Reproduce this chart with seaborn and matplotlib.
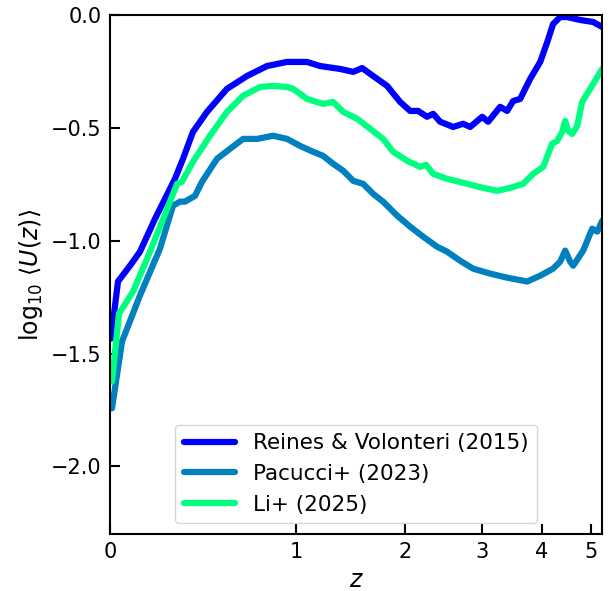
import numpy as np
import pandas as pd
import matplotlib
matplotlib.use("Agg")
import matplotlib.pyplot as plt
import seaborn as sns

# Reines & Volonteri (2015)
z_rv = [0.0037, 0.0303, 0.0773, 0.1182, 0.1826, 0.2738, 0.3126, 0.3622, 0.4355, 0.5463,
        0.6665, 0.7951, 0.9336, 1.0836, 1.1866, 1.3565, 1.4743, 1.5579, 1.6635, 1.8066,
        1.9459, 2.0584, 2.1506, 2.2571, 2.3327, 2.4199, 2.5900, 2.7256, 2.8251, 2.9997,
        3.0899, 3.2762, 3.3895, 3.4887, 3.6075, 3.7822, 3.9646, 4.0963, 4.2088, 4.3478,
        4.4891, 4.7617, 5.0475, 5.2542]
u_rv = [-1.434, -1.181, -1.111, -1.049, -0.903, -0.726, -0.637, -0.518, -0.429, -0.327,
        -0.270, -0.226, -0.208, -0.208, -0.226, -0.239, -0.252, -0.235, -0.270, -0.314,
        -0.385, -0.425, -0.425, -0.451, -0.438, -0.473, -0.496, -0.482, -0.496, -0.451,
        -0.473, -0.407, -0.425, -0.381, -0.372, -0.283, -0.208, -0.120, -0.040, -0.009,
        -0.009, -0.022, -0.031, -0.053]

# Pacucci+ (2023)
z_pa = [0.0075, 0.0457, 0.1182, 0.2048, 0.2643, 0.2981, 0.3224, 0.3727, 0.4090, 0.4899,
        0.5635, 0.6414, 0.7298, 0.8357, 0.9336, 1.0301, 1.1305, 1.2113, 1.2953, 1.3834,
        1.4743, 1.5672, 1.6635, 1.7652, 1.9140, 2.0584, 2.2095, 2.3823, 2.5106, 2.6852,
        2.8665, 3.1206, 3.3895, 3.7293, 3.9646, 4.2088, 4.3478, 4.4485, 4.5510, 4.6134,
        4.8265, 5.0249, 5.1398, 5.2542]
u_pa = [-1.743, -1.447, -1.243, -1.035, -0.845, -0.827, -0.827, -0.801, -0.739, -0.637,
        -0.593, -0.549, -0.549, -0.535, -0.549, -0.580, -0.606, -0.624, -0.659, -0.690,
        -0.735, -0.748, -0.792, -0.827, -0.889, -0.938, -0.982, -1.027, -1.049, -1.089,
        -1.124, -1.146, -1.164, -1.181, -1.155, -1.124, -1.093, -1.044, -1.093, -1.111,
        -1.044, -0.947, -0.960, -0.912]

# Li+ (2025)
z_li = [0.0075, 0.0341, 0.0895, 0.1607, 0.2840, 0.3075, 0.3622, 0.4514, 0.5463, 0.6414,
        0.7488, 0.8357, 0.9336, 0.9778, 1.0836, 1.2113, 1.2953, 1.3834, 1.5113, 1.6343,
        1.7652, 1.8708, 2.0249, 2.1742, 2.2450, 2.3327, 2.5106, 2.7843, 3.0110, 3.2286,
        3.4390, 3.6593, 3.8359, 4.0204, 4.1894, 4.2887, 4.3884, 4.4485, 4.5098, 4.5921,
        4.6980, 4.8050, 4.9803, 5.2542]
u_li = [-1.624, -1.323, -1.226, -1.049, -0.748, -0.739, -0.650, -0.535, -0.429, -0.358,
        -0.319, -0.314, -0.319, -0.327, -0.372, -0.394, -0.385, -0.429, -0.460, -0.504,
        -0.549, -0.606, -0.646, -0.673, -0.664, -0.704, -0.726, -0.748, -0.766, -0.779,
        -0.766, -0.748, -0.704, -0.673, -0.571, -0.558, -0.518, -0.469, -0.513, -0.527,
        -0.491, -0.385, -0.327, -0.239]

labels = ["Reines & Volonteri (2015)", "Pacucci+ (2023)", "Li+ (2025)"]
x_ticks = [0, 1, 2, 3, 4, 5]
y_ticks = [0.0, -0.5, -1.0, -1.5, -2.0]

df = pd.concat([
    pd.DataFrame({"z": z_rv, "u": u_rv, "model": labels[0]}),
    pd.DataFrame({"z": z_pa, "u": u_pa, "model": labels[1]}),
    pd.DataFrame({"z": z_li, "u": u_li, "model": labels[2]}),
], ignore_index=True)

sns.set_style("white")
plt.rcParams["font.family"] = ["DejaVu Sans"]
plt.rcParams["text.color"] = "black"
plt.rcParams["axes.labelcolor"] = "black"
plt.rcParams["xtick.color"] = "black"
plt.rcParams["ytick.color"] = "black"

cmap = plt.get_cmap("winter")
palette = {labels[0]: cmap(0.0), labels[1]: cmap(0.5), labels[2]: cmap(1.0)}

fig = plt.figure(figsize=(6.12, 5.91), dpi=100)
ax = fig.add_axes([0.1797, 0.0964, 0.9837 - 0.1797, 0.9746 - 0.0964])

ax.set_xscale("function", functions=(lambda z: np.log10(1 + np.asarray(z, float)),
                                     lambda u: 10 ** np.asarray(u, float) - 1))

sns.lineplot(data=df, x="z", y="u", hue="model", hue_order=labels, palette=palette,
             linewidth=4.5, sort=False, estimator=None, ax=ax, legend=False)

for lab in labels:
    ax.plot([], [], color=palette[lab], lw=4.5, label=lab)

ax.set_xlim(0, 5.25)
ax.set_ylim(-2.3, 0.0)
ax.set_xticks(x_ticks)
ax.set_xticklabels([str(t) for t in x_ticks])
ax.set_yticks(y_ticks)
ax.set_yticklabels([f"{t:.1f}".replace("-", "\u2212") for t in y_ticks])
ax.minorticks_off()

ax.tick_params(axis="both", direction="in", length=7, width=1.5, labelsize=15,
               top=False, right=False, bottom=True, left=True, pad=6,
               colors="black", labelcolor="black")
for sp in ax.spines.values():
    sp.set_linewidth(1.5)
    sp.set_color("black")

ax.set_xlabel(r"$z$", fontsize=17, color="black")
ax.set_ylabel(r"$\log_{10}\,\langle U(z)\rangle$", fontsize=17, color="black")

leg = ax.legend(loc="lower center", fontsize=15.5, handlelength=2.4, frameon=True)
for t in leg.get_texts():
    t.set_color("black")

fig.savefig("out.png", dpi=100)
